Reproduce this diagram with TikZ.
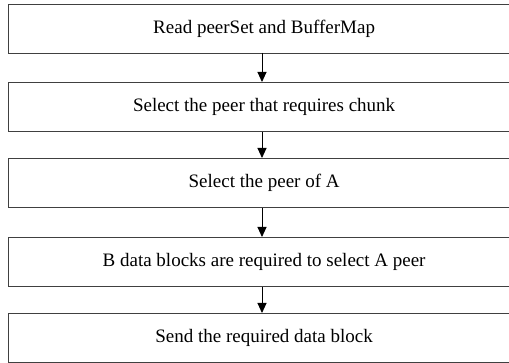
\documentclass[tikz,border=0pt]{standalone}
\usepackage{fontspec}
\setmainfont{Liberation Serif}
\usetikzlibrary{arrows.meta}
\begin{document}
\begin{tikzpicture}[x=1pt,y=-1pt,
  stepbox/.style={draw=black!75,line width=1.2pt,minimum width=512pt,minimum height=49pt,inner sep=0pt,font=\fontsize{19}{22}\selectfont,anchor=north west},
  arr/.style={draw=black,line width=0.9pt,-{Triangle[length=10pt,width=9pt]}}]
\useasboundingbox (0,0) rectangle (509,363);
\node[stepbox] (b1) at (7.5,4) {Read peerSet and BufferMap};
\node[stepbox] (b2) at (7.5,82) {Select the peer that requires chunk};
\node[stepbox] (b3) at (7.5,158) {Select the peer of A};
\node[stepbox] (b4) at (7.5,237) {B data blocks are required to select A peer};
\node[stepbox] (b5) at (7.5,313) {Send the required data block};
\coordinate (a1) at (262,53);
\coordinate (a2) at (262,132);
\coordinate (a3) at (262,208);
\coordinate (a4) at (262,287);
\draw[arr] (a1) -- (b2.north west -| a1);
\draw[arr] (a2) -- (b3.north west -| a2);
\draw[arr] (a3) -- (b4.north west -| a3);
\draw[arr] (a4) -- (b5.north west -| a4);
\end{tikzpicture}
\end{document}
